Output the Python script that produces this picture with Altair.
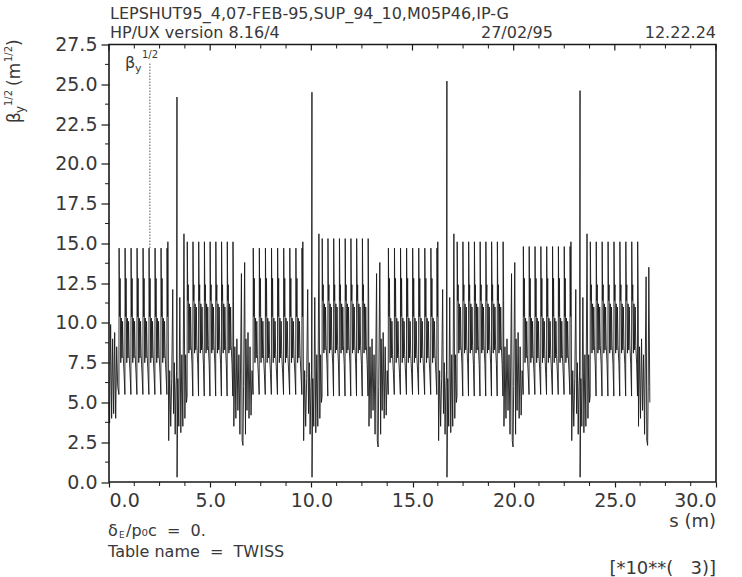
import altair as alt
import pandas as pd

# ---------------- axis ticks ----------------
X_MAJOR = [0.0, 5.0, 10.0, 15.0, 20.0, 25.0, 30.0]
X_MINOR = [1.25, 2.5, 3.75, 6.25, 7.5, 8.75, 11.25, 12.5, 13.75, 16.25, 17.5, 18.75,
           21.25, 22.5, 23.75, 26.25, 27.5, 28.75]
Y_MAJOR = [0.0, 2.5, 5.0, 7.5, 10.0, 12.5, 15.0, 17.5, 20.0, 22.5, 25.0, 27.5]
Y_MINOR = [1.25, 3.75, 6.25, 8.75, 11.25, 13.75, 16.25, 18.75, 21.25, 23.75, 26.25]

# ---------------- beta_y^1/2 (s in 10^3 m) ----------------
# low-beta insertions (tall spikes)
EVEN_IP_S = [3.36, 10.03, 16.70, 23.28]
EVEN_IP_PEAK = [24.2, 24.5, 25.2, 24.6]
EVEN_IP_FLOOR = [0.3, 0.3, 0.3, 0.3]
EVEN_PRE_DS = [-0.45, -0.41, -0.36, -0.31, -0.26, -0.21, -0.17, -0.13, -0.09, -0.05, -0.02]
EVEN_PRE_V = [15.1, 2.6, 7.0, 3.5, 6.5, 12.1, 4.3, 7.5, 3.0, 6.0, 7.0]
EVEN_POST_DS = [0.04, 0.09, 0.14, 0.19, 0.24, 0.29, 0.345, 0.39, 0.43, 0.47]
EVEN_POST_V = [6.5, 3.5, 11.6, 3.1, 8.0, 3.5, 15.6, 4.0, 8.0, 5.0]

# odd insertions (dips)
ODD_IP_S = [6.62, 13.30, 19.97]
ODD_IP_MIN = [2.3, 2.2, 2.2]
ODD_PRE_DS = [-0.45, -0.40, -0.35, -0.30, -0.25, -0.20, -0.15, -0.075, -0.04]
ODD_PRE_V = [3.5, 8.5, 4.0, 9.0, 4.5, 8.0, 3.0, 13.1, 2.6]
ODD_POST_DS = [0.03, 0.085, 0.125, 0.15, 0.20, 0.25, 0.30, 0.35, 0.40, 0.45]
ODD_POST_V = [6.0, 13.8, 3.0, 9.0, 4.5, 9.4, 4.0, 8.5, 4.2, 7.0]

START_S = [0.0, 0.03, 0.08, 0.13, 0.18, 0.23, 0.28, 0.33, 0.38, 0.43]
START_V = [5.0, 3.7, 9.9, 4.0, 9.0, 4.3, 9.4, 4.0, 8.5, 6.0]
END_S = [26.17, 26.22, 26.27, 26.32, 26.37, 26.42, 26.47, 26.545, 26.58, 26.62, 26.65, 26.68, 26.73]
END_V = [3.5, 8.5, 4.0, 9.0, 4.5, 8.0, 3.0, 12.9, 2.6, 2.3, 6.0, 13.5, 5.0]

# arcs: first / last tall line, number of tall lines, their top
ARC_FIRST = [0.49, 3.86, 7.12, 10.53, 13.80, 17.20, 20.47, 23.78]
ARC_LAST = [2.86, 6.12, 9.53, 12.80, 16.20, 19.47, 22.78, 26.12]
ARC_LINES = [9, 9, 9, 9, 9, 9, 9, 9]
ARC_TOP = [14.7, 15.1, 14.7, 15.3, 14.7, 15.1, 14.8, 15.1]
ARC_KIND = ["A", "B", "A", "B", "A", "B", "A", "B"]
# levels inside one repeat of the arc pattern (None = the tall line top)
CELL_FRAC = [0.0, 0.03, 0.12, 0.20, 0.31, 0.41, 0.51, 0.61, 0.71, 0.86]
CELL_A = [5.5, None, 10.4, 12.8, 7.5, 10.3, 7.8, 10.1, 8.0, 6.8]
CELL_B = [5.4, None, 11.4, 12.4, 8.1, 11.2, 8.3, 11.0, 8.6, 7.4]

# curve label marker
LABEL_S = [2.02]
LABEL_TOP = [26.3]
LABEL_BOTTOM = [14.7]

# ---------------- build the series ----------------
rows = []


def add(ss, vs):
    for s, v in zip(ss, vs):
        rows.append((s, v))


add(START_S, START_V)
for k in range(8):
    cell = CELL_A if ARC_KIND[k] == "A" else CELL_B
    n = ARC_LINES[k]
    step = (ARC_LAST[k] - ARC_FIRST[k]) / (n - 1)
    for j in range(n):
        p = ARC_FIRST[k] + j * step
        m = len(CELL_FRAC) if j < n - 1 else 3
        for f, v in zip(CELL_FRAC[:m], cell[:m]):
            rows.append((p + f * step, ARC_TOP[k] if v is None else v))
    if k % 2 == 0:
        c = EVEN_IP_S[k // 2]
        add([c + d for d in EVEN_PRE_DS], EVEN_PRE_V)
        rows.append((c, EVEN_IP_PEAK[k // 2]))
        rows.append((c + 0.004, EVEN_IP_FLOOR[k // 2]))
        add([c + d for d in EVEN_POST_DS], EVEN_POST_V)
    elif k // 2 < 3:
        c = ODD_IP_S[k // 2]
        add([c + d for d in ODD_PRE_DS], ODD_PRE_V)
        rows.append((c, ODD_IP_MIN[k // 2]))
        add([c + d for d in ODD_POST_DS], ODD_POST_V)
    else:
        add(END_S, END_V)

df = pd.DataFrame(rows, columns=["s", "b"])
df["i"] = range(len(df))

# ---------------- chart ----------------
FONT = "DejaVu Sans"
INK = "#1a1a1a"
TXT = "#383838"
W, H = 607, 437.5

xs = alt.Scale(domain=[0, 30], nice=False, zero=False)
ys = alt.Scale(domain=[0, 27.5], nice=False, zero=False)
x_axis = alt.Axis(values=X_MAJOR, format=".1f", title=None, grid=False, domain=False,
                  tickSize=5, tickColor=INK, tickWidth=1.2, labelFont=FONT, labelFontSize=19,
                  labelColor=TXT, labelPadding=4)
y_axis = alt.Axis(values=Y_MAJOR, format=".1f", title=None, grid=False, domain=False,
                  tickSize=8, tickColor=INK, tickWidth=1.2, labelFont=FONT, labelFontSize=19,
                  labelColor=TXT, labelPadding=4)

curve = alt.Chart(df).mark_line(color=INK, strokeWidth=0.9).encode(
    x=alt.X("s:Q", scale=xs, axis=x_axis),
    y=alt.Y("b:Q", scale=ys, axis=y_axis),
    order="i:Q",
)

bottom_minor = alt.Chart(pd.DataFrame({"s": X_MINOR})).mark_rule(color=INK, strokeWidth=1).encode(
    x=alt.X("s:Q", scale=xs, axis=x_axis), y=alt.value(H), y2=alt.value(H + 4))
top_minor = alt.Chart(pd.DataFrame({"s": X_MINOR})).mark_rule(color=INK, strokeWidth=1).encode(
    x=alt.X("s:Q", scale=xs, axis=x_axis), y=alt.value(0), y2=alt.value(4))
top_major = alt.Chart(pd.DataFrame({"s": X_MAJOR})).mark_rule(color=INK, strokeWidth=1.2).encode(
    x=alt.X("s:Q", scale=xs, axis=x_axis), y=alt.value(0), y2=alt.value(6))
left_minor = alt.Chart(pd.DataFrame({"b": Y_MINOR})).mark_rule(color=INK, strokeWidth=1).encode(
    y=alt.Y("b:Q", scale=ys, axis=y_axis), x=alt.value(-4), x2=alt.value(0))

marker = alt.Chart(pd.DataFrame({"s": LABEL_S, "b": LABEL_TOP, "b2": LABEL_BOTTOM})).mark_rule(
    color="#555555", strokeWidth=1, strokeDash=[1.5, 1.5]).encode(
    x=alt.X("s:Q", scale=xs, axis=x_axis), y=alt.Y("b:Q", scale=ys, axis=y_axis), y2="b2:Q")


def txt(s, x, y, size=17, align="left", angle=0, baseline="alphabetic"):
    return alt.Chart(pd.DataFrame({"t": [s]})).mark_text(
        text=s, align=align, baseline=baseline, angle=angle, font=FONT, fontSize=size,
        color=TXT).encode(x=alt.value(x - 109), y=alt.value(y - 44.5))


NB = "\u00a0"
texts = [
    # header (absolute page positions)
    txt("LEPSHUT95_4,07-FEB-95,SUP_94_10,M05P46,IP-G", 110, 19, size=16),
    txt("HP/UX version 8.16/4", 110, 38, size=16),
    txt("27/02/95", 481, 38, size=16),
    txt("12.22.24", 716, 38, size=16, align="right"),
    # y title (rotated)
    txt("β", 20, 123, size=17, angle=270),
    txt("y", 24, 113, size=12, angle=270),
    txt("1/2", 12, 106, size=10, angle=270),
    txt("(m", 20, 86, size=17, angle=270),
    txt("1/2", 12, 62, size=10, angle=270),
    txt(")", 20, 46, size=17, angle=270),
    # curve label
    txt("β", 125, 68, size=16),
    txt("y", 135, 72, size=11),
    txt("1/2", 142, 58, size=10),
    # x title and footer
    txt("s" + NB + "(m)", 716, 527, size=18, align="right"),
    txt("δ", 108, 536, size=16),
    txt("E", 119, 538, size=9),
    txt("/p₀c" + NB * 2 + "=" + NB * 2 + "0.", 126, 536, size=16),
    txt("Table name" + NB * 2 + "=" + NB * 2 + "TWISS", 108, 557, size=16),
    txt("[*10**(" + NB * 3 + "3)]", 716, 574, size=18, align="right"),
]

chart = alt.layer(curve, bottom_minor, top_minor, top_major, left_minor, marker, *texts).properties(
    width=W, height=H,
    padding={"left": 109, "top": 44.5, "right": 26, "bottom": 95},
    autosize=alt.AutoSizeParams(type="none"),
    background="white",
).configure_view(stroke=INK, strokeWidth=1.6)

chart.save("out.html", embed_options={"renderer": "svg", "actions": False})
